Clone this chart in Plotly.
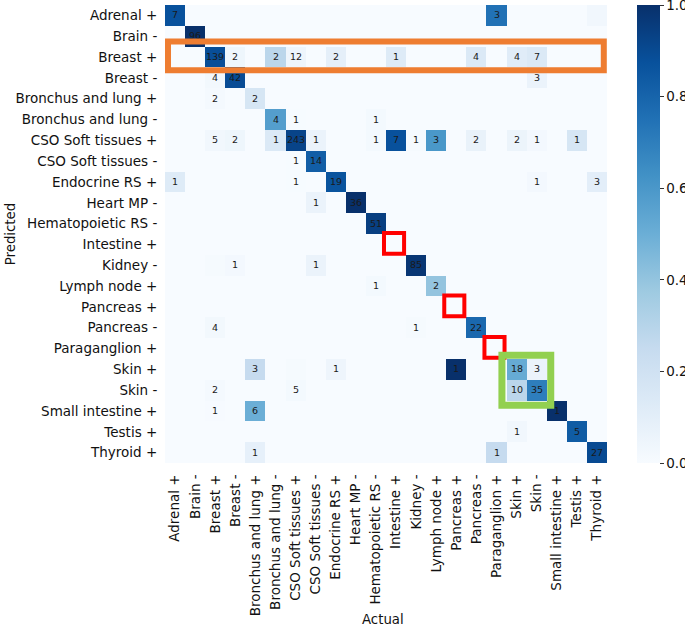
import plotly.graph_objects as go
import numpy as np

labels = ["Adrenal +", "Brain -", "Breast +", "Breast -", "Bronchus and lung +",
          "Bronchus and lung -", "CSO Soft tissues +", "CSO Soft tissues -",
          "Endocrine RS +", "Heart MP -", "Hematopoietic RS -", "Intestine +",
          "Kidney -", "Lymph node +", "Pancreas +", "Pancreas -", "Paraganglion +",
          "Skin +", "Skin -", "Small intestine +", "Testis +", "Thyroid +"]

# counts[predicted_row] = {actual_col: count}
row_adrenal = {0: 7, 16: 3}
row_brain = {1: 96}
row_breast_p = {2: 139, 3: 2, 5: 2, 6: 12, 8: 2, 11: 1, 15: 4, 17: 4, 18: 7}
row_breast_n = {2: 4, 3: 42, 18: 3}
row_bronchus_p = {2: 2, 4: 2}
row_bronchus_n = {5: 4, 6: 1, 10: 1}
row_cso_p = {2: 5, 3: 2, 5: 1, 6: 243, 7: 1, 10: 1, 11: 7, 12: 1, 13: 3, 15: 2, 17: 2, 18: 1, 20: 1}
row_cso_n = {6: 1, 7: 14}
row_endocrine = {0: 1, 6: 1, 8: 19, 18: 1, 21: 3}
row_heart = {7: 1, 9: 36}
row_hemato = {10: 51}
row_intestine = {}
row_kidney = {3: 1, 7: 1, 12: 85}
row_lymph = {10: 1, 13: 2}
row_pancreas_p = {}
row_pancreas_n = {2: 4, 12: 1, 15: 22}
row_paraganglion = {}
row_skin_p = {4: 3, 8: 1, 14: 1, 17: 18, 18: 3}
row_skin_n = {2: 2, 6: 5, 17: 10, 18: 35}
row_small_int = {2: 1, 4: 6, 19: 1}
row_testis = {17: 1, 20: 5}
row_thyroid = {4: 1, 16: 1, 21: 27}

rows = [row_adrenal, row_brain, row_breast_p, row_breast_n, row_bronchus_p, row_bronchus_n,
        row_cso_p, row_cso_n, row_endocrine, row_heart, row_hemato, row_intestine,
        row_kidney, row_lymph, row_pancreas_p, row_pancreas_n, row_paraganglion,
        row_skin_p, row_skin_n, row_small_int, row_testis, row_thyroid]

# faintly shaded cells without a printed count: (row, col, fraction)
faint_cells = [(0, 21, 0.03), (12, 2, 0.01), (17, 6, 0.01)]

n = len(labels)
counts = np.zeros((n, n))
for i, r in enumerate(rows):
    for j, v in r.items():
        counts[i, j] = v

colsum = counts.sum(axis=0)
z = np.divide(counts, colsum, out=np.zeros_like(counts), where=colsum > 0)
for i, j, f in faint_cells:
    z[i, j] = f
text = [[str(int(counts[i, j])) if counts[i, j] > 0 else "" for j in range(n)] for i in range(n)]

blues = ["#f7fbff", "#deebf7", "#c6dbef", "#9ecae1", "#6baed6",
         "#4292c6", "#2171b5", "#08519c", "#08306b"]
cs = [[k / 8, c] for k, c in enumerate(blues)]

FONT = "DejaVu Sans"
TICK = 13.5

fig = go.Figure(go.Heatmap(
    z=z, x=list(range(n)), y=list(range(n)),
    text=text, texttemplate="%{text}", textfont=dict(size=9.5, color="#1a1a1a", family=FONT),
    colorscale=cs, zmin=0, zmax=1,
    colorbar=dict(x=1.068, xanchor="left", xpad=0, thickness=23, len=1, lenmode="fraction",
                  y=0.5, yanchor="middle", ypad=0, outlinewidth=0,
                  tickvals=[0, 0.2, 0.4, 0.6, 0.8, 1.0],
                  ticktext=["0.0", "0.2", "0.4", "0.6", "0.8", "1.0"],
                  ticklabeloverflow="allow",
                  ticks="outside", ticklen=4, tickcolor="#333",
                  tickfont=dict(size=TICK, family=FONT, color="#111")),
    hoverinfo="skip",
))

shapes = []
# orange box around "Breast +" row
shapes.append(dict(type="rect", xref="x", yref="y", x0=-0.35, x1=21.34, y0=1.25, y1=2.64,
                   line=dict(color="#EE7D31", width=6)))
# red boxes on empty diagonal cells
for k in [11, 14, 16]:
    shapes.append(dict(type="rect", xref="x", yref="y", x0=k - 0.6, x1=k + 0.4,
                       y0=k - 0.55, y1=k + 0.45, line=dict(color="#FF0000", width=4)))
# green box around Skin block
shapes.append(dict(type="rect", xref="x", yref="y", x0=16.27, x1=18.7, y0=16.32, y1=18.72,
                   line=dict(color="#92D050", width=7)))

fig.update_layout(
    width=685, height=627,
    margin=dict(l=165, r=78, t=4.5, b=164, autoexpand=False),
    paper_bgcolor="white", plot_bgcolor="white",
    font=dict(family=FONT, size=12, color="#111"),
    shapes=shapes,
    xaxis=dict(tickmode="array", tickvals=list(range(n)), ticktext=labels, tickangle=-90,
               range=[-0.5, n - 0.5], showgrid=False, zeroline=False, showline=False,
               ticks="outside", ticklen=5, tickcolor="rgba(0,0,0,0)",
               tickfont=dict(size=TICK, family=FONT, color="#111")),
    yaxis=dict(tickmode="array", tickvals=list(range(n)), ticktext=labels,
               range=[n - 0.5, -0.5], showgrid=False, zeroline=False, showline=False,
               ticks="outside", ticklen=4, tickcolor="rgba(0,0,0,0)",
               tickfont=dict(size=TICK, family=FONT, color="#111")),
    annotations=[
        dict(text="Predicted", xref="paper", yref="paper", x=-0.3507, y=0.4995,
             textangle=-90, showarrow=False, font=dict(size=13.3, family=FONT, color="#111"),
             xanchor="center", yanchor="middle"),
        dict(text="Actual", xref="paper", yref="paper", x=0.493, y=-0.342,
             showarrow=False, font=dict(size=13.3, family=FONT, color="#111"),
             xanchor="center", yanchor="middle"),
    ],
)

fig.write_html("out.html", config={"displayModeBar": False},
               post_script="document.body.style.margin='0';document.body.style.overflow='hidden';")
